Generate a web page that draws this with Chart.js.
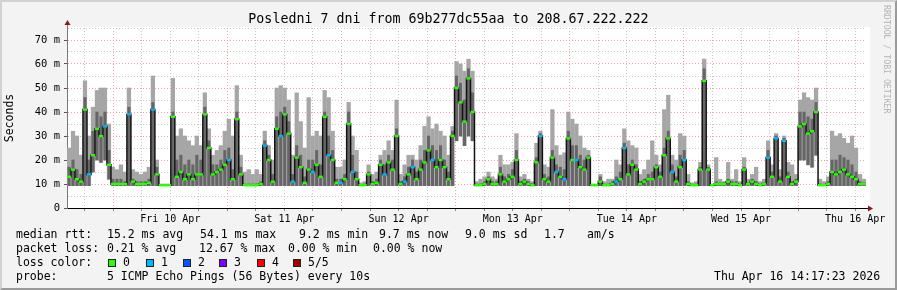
<!DOCTYPE html>
<html>
<head>
<meta charset="utf-8">
<script src="https://cdn.jsdelivr.net/npm/chart.js@4.4.1/dist/chart.umd.min.js"></script>
<style>
  html, body { margin: 0; padding: 0; background: #fff; }
  #wrap {
    position: relative; width: 897px; height: 290px; overflow: hidden;
    background: #f3f3f3; font-family: 'DejaVu Sans Mono', monospace; color: #000;
  }
  #wrap:after {
    content: ''; position: absolute; left: 0; top: 0; right: 0; bottom: 0; pointer-events: none;
    border-top: 2px solid #d2d2d2; border-left: 2px solid #d2d2d2;
    border-bottom: 2px solid #9a9a9a; border-right: 2px solid #9a9a9a;
  }
  canvas { position: absolute; left: 0; top: 0; }
  .t { position: absolute; white-space: pre; font-size: 11.5px; line-height: 14px; }
  .sw { position: absolute; top: 259px; width: 6px; height: 6px; border: 1px solid #222; }
  #title { position: absolute; left: 0; top: 11px; width: 897px; text-align: center; font-size: 13.3px; line-height: 16px; }
  #mark { position: absolute; left: 882px; top: 5px; writing-mode: vertical-rl; font-size: 8.2px; color: #b4b4b4; }
</style>
</head>
<body>
<div id="wrap">
  <canvas id="chart" width="897" height="290"></canvas>
  <div id="title">Posledni 7 dni from 69b277dc55aa to 208.67.222.222</div>
  <div id="mark">RRDTOOL / TOBI OETIKER</div>

  <div class="t" style="left:16px;top:227px">median rtt:</div>
  <div class="t" style="left:107px;top:227px">15.2 ms avg</div>
  <div class="t" style="left:200px;top:227px">54.1 ms max</div>
  <div class="t" style="left:299px;top:227px">9.2 ms min</div>
  <div class="t" style="left:379px;top:227px">9.7 ms now</div>
  <div class="t" style="left:465px;top:227px">9.0 ms sd</div>
  <div class="t" style="left:544px;top:227px">1.7</div>
  <div class="t" style="left:587px;top:227px">am/s</div>

  <div class="t" style="left:16px;top:241px">packet loss:</div>
  <div class="t" style="left:107px;top:241px">0.21 % avg</div>
  <div class="t" style="left:199px;top:241px">12.67 % max</div>
  <div class="t" style="left:288px;top:241px">0.00 % min</div>
  <div class="t" style="left:373px;top:241px">0.00 % now</div>

  <div class="t" style="left:16px;top:255px">loss color:</div>
  <div id="lossLegend"></div>

  <div class="t" style="left:16px;top:269px">probe:</div>
  <div class="t" style="left:107px;top:269px">5 ICMP Echo Pings (56 Bytes) every 10s</div>
  <div class="t" style="left:714px;top:269px">Thu Apr 16 14:17:23 2026</div>
</div>

<script>
/* ---- data: 200 samples, ~50 min each, last 7 days ---- */
// hours since Thu 9 Apr 00:00
const startHour = 14.28;
const endHour = 182.28;
const sampleHours = 0.84;

const dayLabels = ['Fri 10 Apr', 'Sat 11 Apr', 'Sun 12 Apr', 'Mon 13 Apr', 'Tue 14 Apr', 'Wed 15 Apr', 'Thu 16 Apr'];

// median rtt (ms)
const medianRtt = [
  13,16,12,11,41,14,22,33,30,34,18,10,10,10,10,39,11,10,10,10,
  10.5,41,14,9.5,9.5,9.5,38,13,15,12,14,12,14,14,39,25,14,15,16,18,
  20,12,37,14,9.5,9.5,9.5,9.5,10,26,20,11,33,30,39,31,11,21,17,10.5,
  16,15,18,13,38,22,20,10.5,10.5,12,35,15,12,9.5,9.5,14,10,10.5,18,14,
  19,16,30,10,11,14,17,12,16,19,24,20,17,20,17,12,30,50,44,36,
  54,40,9.5,9.5,10,12,10,10,14,11,12,13,20,10,11,10,9.5,19,30,12,
  11,21,15,13,12,29,20,20,17,16,21,9.5,9.5,11,9.5,9.5,10,11,12,25,
  14,18,16,10,11,12,12,17,13,22,29,15,11,17,20,10,9.5,9.5,16,53,
  16,9.5,10,10,10,11,10,10,9.5,16,10,11,10,9.5,10,21,13,29,11,28,
  13,10,11,34,35,31,32,40,9.5,9.5,10,15,14,15,16,14,13,12,10,10
];

// lowest ping of each sample (ms)
const minRtt = [
  9.3,9.3,9.3,9.3,9.3,9.3,15,20,19,20,12,9.3,9.3,9.3,9.3,9.3,9.3,9.3,9.3,9.3,
  9.3,9.3,9.3,9.3,9.3,9.3,9.3,9.3,9.3,9.3,9.3,9.3,9.3,9.3,9.3,9.3,9.3,9.3,9.3,9.3,
  9.3,9.3,9.3,9.3,9.3,9.3,9.3,9.3,9.3,9.3,9.3,9.3,9.3,9.3,9.3,9.3,9.3,9.3,9.3,9.3,
  9.3,9.3,9.3,9.3,9.3,9.3,9.3,9.3,9.3,9.3,9.3,9.3,9.3,9.3,9.3,9.3,9.3,9.3,9.3,9.3,
  9.3,9.3,9.3,9.3,9.3,9.3,9.3,9.3,9.3,9.3,9.3,9.3,9.3,9.3,9.3,9.3,9.3,28,30,26,
  30,28,9.3,9.3,9.3,9.3,9.3,9.3,9.3,9.3,9.3,9.3,9.3,9.3,9.3,9.3,9.3,9.3,9.3,9.3,
  9.3,9.3,9.3,9.3,9.3,9.3,9.3,9.3,9.3,9.3,9.3,9.3,9.3,9.3,9.3,9.3,9.3,9.3,9.3,9.3,
  9.3,9.3,9.3,9.3,9.3,9.3,9.3,9.3,9.3,9.3,9.3,9.3,9.3,9.3,9.3,9.3,9.3,9.3,9.3,9.3,
  9.3,9.3,9.3,9.3,9.3,9.3,9.3,9.3,9.3,9.3,9.3,9.3,9.3,9.3,9.3,9.3,9.3,9.3,9.3,9.3,
  9.3,9.3,9.3,20,20,18,17,22,9.3,9.3,9.3,9.3,9.3,9.3,9.3,9.3,9.3,9.3,9.3,9.3
];

// upper edge of the dark smoke (ms)
const darkSmokeTop = [
  17,20,16,14,46,20,32,40,38,40,24,12,12,12,11,42,12,11,11,11,
  12,44,17,9.8,9.8,9.8,40,20,22,18,20,18,22,20,42,28,18,18,20,24,
  25,16,40,17,10,10,10,10,11,28,22,14,38,40,42,36,14,26,22,13,
  20,20,24,18,40,30,24,12,12,14,40,22,15,9.8,10,15,11,12,20,18,
  22,20,33,11,13,17,20,15,20,24,30,26,24,26,20,15,32,55,52,45,
  58,48,10,10,11,13,11,11,17,13,14,16,24,11,12,11,10,21,31,14,
  13,24,18,17,16,32,26,26,22,20,22,9.8,9.8,13,10,10,11,13,15,27,
  18,20,18,11,12,14,15,18,15,25,32,18,13,22,24,11,9.8,10,17,58,
  17,9.8,11,10.5,10.5,12,11,11,10,17,10.5,12,11,9.8,10.5,24,15,30,13,29,
  15,11,12,40,40,38,37,44,10,9.8,11,20,20,22,21,20,18,15,11,10.5
];

// highest ping of each sample (ms)
const maxRtt = [
  25,32,30,22,53,30,42,49,50,50,35,17,16,18,15,50,16,15,14,15,
  17,55,20,10,10,10,54,30,33,30,28,26,30,26,48,33,22,24,26,32,
  37,30,51,22,15,16,14,16,14,32,26,20,50,51,50,45,22,48,36,25,
  46,30,32,30,49,46,32,17,17,20,44,30,24,10.5,11,18,14,15,22,24,
  28,24,45,14,18,22,22,20,26,34,38,33,35,32,30,22,34,61,60,57,
  62,57,11,12,13,15,13,12,22,18,18,19,31,13,14,12,11,27,32,18,
  17,41,26,22,23,40,37,35,30,25,24,10,10,14,11,12,12,20,18,33,
  28,26,25,14,16,20,28,22,18,41,47,22,20,31,30,14,10.5,11,19,62,
  18,10,21,12,11,19,12,16,11,21,12,14,17,11,12,28,18,31,16,30,
  19,18,14,45,48,46,45,50,12,11,13,32,30,31,29,27,30,25,14,12
];

// lost pings (of 5) per sample
const lostPings = [
  0,0,0,0,0,1,0,0,0,1,0,0,0,0,0,1,0,0,0,0,
  0,1,0,0,0,0,0,0,0,0,0,0,0,0,0,0,0,0,0,0,
  1,0,0,0,0,0,0,0,0,1,0,0,0,1,0,0,1,0,0,0,
  0,1,0,0,0,1,0,0,1,0,0,1,0,0,0,0,0,0,0,1,
  0,0,0,0,1,0,1,0,0,0,0,1,0,0,0,0,0,0,0,0,
  0,0,0,0,0,0,0,0,0,0,0,0,0,0,0,0,0,0,1,0,
  0,0,1,0,1,0,0,1,0,0,0,0,0,0,0,0,0,1,0,1,
  0,0,0,0,0,0,0,0,0,0,0,1,0,0,1,0,0,0,0,0,
  0,0,0,0,0,0,0,0,0,0,0,0,0,0,0,1,0,1,0,1,
  0,0,0,0,0,0,0,0,0,0,0,0,0,0,0,0,0,0,0,0
];

const lossLabels = ['0', '1', '2', '3', '4', '5/5'];
const lossColors = ['#26ff00', '#00b8ff', '#0059ff', '#7e00ff', '#ff0000', '#a00000'];

/* legenda das cores de perda */
const swatchX = [108, 146, 183, 219, 257, 293];
const lossLegend = document.getElementById('lossLegend');
lossLabels.forEach((lab, i) => {
  const box = document.createElement('div');
  box.className = 'sw';
  box.style.left = swatchX[i] + 'px';
  box.style.background = lossColors[i];
  lossLegend.appendChild(box);
  const txt = document.createElement('div');
  txt.className = 't';
  txt.style.left = (swatchX[i] + 15) + 'px';
  txt.style.top = '255px';
  txt.textContent = lab;
  lossLegend.appendChild(txt);
});

/* pontos para o Chart.js */
const hourOf = i => startHour + sampleHours * (i + 0.5);
const outerSmoke = maxRtt.map((v, i) => ({ x: hourOf(i), y: [minRtt[i], v] }));
const innerSmoke = darkSmokeTop.map((v, i) => ({ x: hourOf(i), y: [minRtt[i], v] }));
const medianPts = medianRtt.map((v, i) => ({ x: hourOf(i), y: v }));
const medianColors = lostPings.map(l => lossColors[l]);

const gridHours = [];
for (let h = Math.ceil(startHour / 6) * 6; h <= endHour; h += 6) gridHours.push(h);

const gridPink = '#f0a0a0';
const gridGray = '#c8c8c8';
const axisFont = { family: 'DejaVu Sans Mono', size: 10 };

/* fundo branco da área do gráfico + setas dos eixos */
const rrdFrame = {
  id: 'rrdFrame',
  beforeDraw(chart) {
    const { ctx, chartArea: a } = chart;
    ctx.save();
    ctx.fillStyle = '#fff';
    ctx.fillRect(a.left, a.top - 1, a.right - a.left + 4, a.bottom - a.top + 1);
    ctx.restore();
  },
  afterDraw(chart) {
    const { ctx, chartArea: a } = chart;
    ctx.save();
    ctx.strokeStyle = '#777';
    ctx.lineWidth = 1;
    ctx.beginPath();
    ctx.moveTo(a.left + 0.5, a.top);
    ctx.lineTo(a.left + 0.5, a.top - 4);
    ctx.stroke();
    ctx.strokeStyle = '#000';
    ctx.beginPath();
    ctx.moveTo(a.right, a.bottom + 0.5);
    ctx.lineTo(a.right + 3, a.bottom + 0.5);
    ctx.stroke();
    ctx.fillStyle = '#8b1a1a';
    ctx.beginPath();
    ctx.moveTo(a.left + 0.5, a.top - 8);
    ctx.lineTo(a.left - 2.5, a.top - 3);
    ctx.lineTo(a.left + 3.5, a.top - 3);
    ctx.closePath();
    ctx.fill();
    ctx.beginPath();
    ctx.moveTo(a.right + 7, a.bottom + 0.5);
    ctx.lineTo(a.right + 2, a.bottom - 2.5);
    ctx.lineTo(a.right + 2, a.bottom + 3.5);
    ctx.closePath();
    ctx.fill();
    ctx.restore();
  }
};

const ctx = document.getElementById('chart').getContext('2d');
new Chart(ctx, {
  type: 'bar',
  data: {
    datasets: [
      {
        type: 'line',
        label: 'median rtt',
        data: medianPts,
        order: 0,
        stepped: 'middle',
        borderColor: '#111',
        borderWidth: 1.5,
        fill: false,
        pointStyle: 'line',
        pointRadius: 2.1,
        pointBorderWidth: 2.4,
        pointBorderColor: medianColors,
        pointBackgroundColor: medianColors
      },
      {
        label: 'smoke inner',
        data: innerSmoke,
        order: 1,
        grouped: false,
        barThickness: 2.4,
        borderWidth: 0,
        backgroundColor: '#666666'
      },
      {
        label: 'smoke outer',
        data: outerSmoke,
        order: 2,
        grouped: false,
        barThickness: 3.6,
        borderWidth: 0,
        backgroundColor: '#a6a6a6'
      }
    ]
  },
  options: {
    responsive: false,
    animation: false,
    events: [],
    layout: { padding: { left: 0, right: 31, top: 28, bottom: 0 } },
    plugins: { legend: { display: false }, tooltip: { enabled: false } },
    scales: {
      x: {
        type: 'linear',
        min: startHour,
        max: endHour,
        offset: false,
        afterBuildTicks(scale) { scale.ticks = gridHours.map(v => ({ value: v })); },
        afterFit(scale) { scale.height = 82; },
        grid: {
          offset: false,
          lineWidth: 1,
          color: c => (c.tick && c.tick.value % 24 === 0) ? gridPink : gridGray,
          tickLength: 3,
          tickColor: '#888'
        },
        border: { display: true, color: '#000', width: 1, dash: [1, 2] },
        ticks: {
          autoSkip: false,
          maxRotation: 0,
          padding: 2,
          color: '#000',
          font: axisFont,
          callback: v => (v % 24 === 12 && v >= 36) ? dayLabels[(v - 36) / 24] : ''
        }
      },
      y: {
        min: 0,
        max: 75,
        afterFit(scale) { scale.width = 67; },
        grid: {
          lineWidth: 1,
          color: c => c.tick.value === 0 ? 'rgba(0,0,0,0)' : (c.tick.value % 10 === 0 ? gridPink : gridGray),
          tickLength: 3,
          tickColor: c => c.tick.value % 10 === 0 ? '#555' : 'rgba(0,0,0,0)'
        },
        border: { display: true, color: '#777', width: 1, dash: [1, 2] },
        ticks: {
          stepSize: 5,
          autoSkip: false,
          padding: 4,
          color: '#000',
          font: { family: 'DejaVu Sans Mono', size: 10.5 },
          callback: v => v % 10 ? '' : (v === 0 ? '0' : v + ' m')
        },
        title: {
          display: true,
          text: 'Seconds',
          color: '#000',
          font: { family: 'DejaVu Sans Mono', size: 11.5 },
          padding: { top: 3, bottom: 0 }
        }
      }
    }
  },
  plugins: [rrdFrame]
});
</script>
</body>
</html>
